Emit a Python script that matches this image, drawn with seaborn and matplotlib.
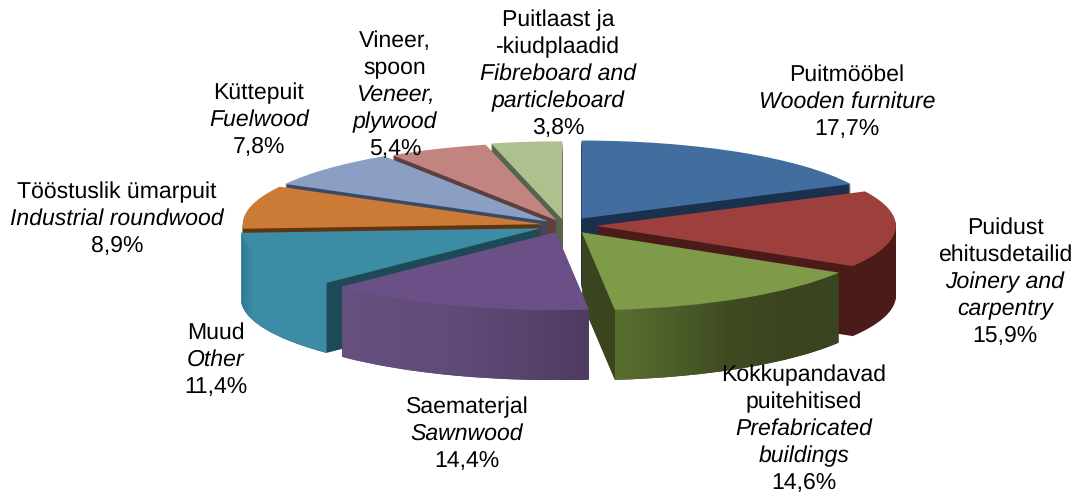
import numpy as np
import matplotlib
matplotlib.use("Agg")
import matplotlib.pyplot as plt
from matplotlib.colors import LinearSegmentedColormap
from matplotlib.patches import Polygon
import seaborn as sns

# ---- data ----
values = [17.7, 15.9, 14.6, 14.4, 11.4, 8.9, 7.8, 5.4, 3.8]
names_et = [["Puitmööbel"], ["Puidust", "ehitusdetailid"], ["Kokkupandavad", "puitehitised"],
            ["Saematerjal"], ["Muud"], ["Tööstuslik ümarpuit"], ["Küttepuit"],
            ["Vineer,", "spoon"], ["Puitlaast ja", "-kiudplaadid"]]
names_en = [["Wooden furniture"], ["Joinery and", "carpentry"], ["Prefabricated", "buildings"],
            ["Sawnwood"], ["Other"], ["Industrial roundwood"], ["Fuelwood"],
            ["Veneer,", "plywood"], ["Fibreboard and", "particleboard"]]

# ---- style ----
top_colors = ["#416d9f", "#9d3f3c", "#7f9a48", "#6a5087", "#3c8ca5", "#cb7b36", "#8a9fc3", "#c28481", "#afc08f"]
side_colors = ["#1b304c", "#4a1b18", "#3a4520", "#4f3b60", "#1e4a58", "#5e3510", "#3a4a66", "#5c3f3e", "#56644a"]
rim_stops = {2: ["#5a6e30", "#4d5f2a", "#3f4c22", "#3a4520", "#3a4520"],
             3: ["#675080", "#5f4a78", "#4f3b60"],
             4: ["#2f7c93"] + ["#3c8ca5"] * 7}
explode = [.105, .103, .104, .09, .088, .076, .076, .07, .08]
W, H = 1076, 495
CX, CY, RX, RY, DEPTH = 565.0, 225.5, 300.0, 78.0, 70
label_cx = [847, 1005, 804, 467, 216, 117, 259, 395, 558]
label_base = [81, 234, 381, 413, 339, 198, 99, 47, 26]
line_step = 27.1
font_size = 16.7

sns.set_theme(style="white")
plt.rcParams["font.family"] = ["Liberation Sans", "DejaVu Sans"]
plt.rcParams["text.hinting"] = "no_hinting"
plt.rcParams["text.hinting_factor"] = 1

fig = plt.figure(figsize=(W / 100, H / 100), dpi=100, facecolor="white")
ax = fig.add_axes([0, 0, 1, 1])
common = dict(startangle=90, counterclock=False, explode=explode, radius=1.0)

z = 1
for k in range(DEPTH, 0, -1):
    wedges, _ = ax.pie(values, colors=side_colors, center=(0, -k / RY),
                       wedgeprops={"linewidth": 0}, **common)
    for w in wedges:
        w.set_zorder(z)
    z += 1

tops, _ = ax.pie(values, colors=top_colors, center=(0, 0), wedgeprops={"linewidth": 0}, **common)

# gradient outer walls, swept from each wedge's own arc
for i, stops in rim_stops.items():
    w = tops[i]
    t = np.radians(np.linspace(w.theta1, w.theta2, 120))
    x = w.center[0] + w.r * np.cos(t)
    y = w.center[1] + w.r * np.sin(t)
    outline = np.column_stack([np.r_[x, x[::-1]], np.r_[y + 0.015, y[::-1] - DEPTH / RY]])
    clip = Polygon(outline, closed=True, transform=ax.transData, facecolor="none", edgecolor="none")
    ax.add_patch(clip)
    cmap = LinearSegmentedColormap.from_list(f"rim{i}", stops)
    im = ax.imshow(np.linspace(0, 1, 256)[None, :], cmap=cmap, aspect="auto",
                   extent=(x.min(), x.max(), outline[:, 1].min(), outline[:, 1].max()),
                   zorder=z + i * 0.01, interpolation="bilinear")
    im.set_clip_path(clip)
z += 1
for w in tops:
    w.set_zorder(z)

ax.set_aspect("auto")
ax.set_xlim((0 - CX) / RX, (W - CX) / RX)
ax.set_ylim((CY - H) / RY, CY / RY)
ax.axis("off")

for i, v in enumerate(values):
    lines = [(t, "normal") for t in names_et[i]] + [(t, "italic") for t in names_en[i]]
    lines.append((f"{v:.1f}%".replace(".", ","), "normal"))
    for j, (txt, style) in enumerate(lines):
        fig.text(label_cx[i] / W, 1 - (label_base[i] + j * line_step) / H, txt, ha="center", va="baseline",
                 fontsize=font_size, fontstyle=style, color="black", zorder=1000)

fig.savefig("out.png", dpi=100, facecolor="white")
